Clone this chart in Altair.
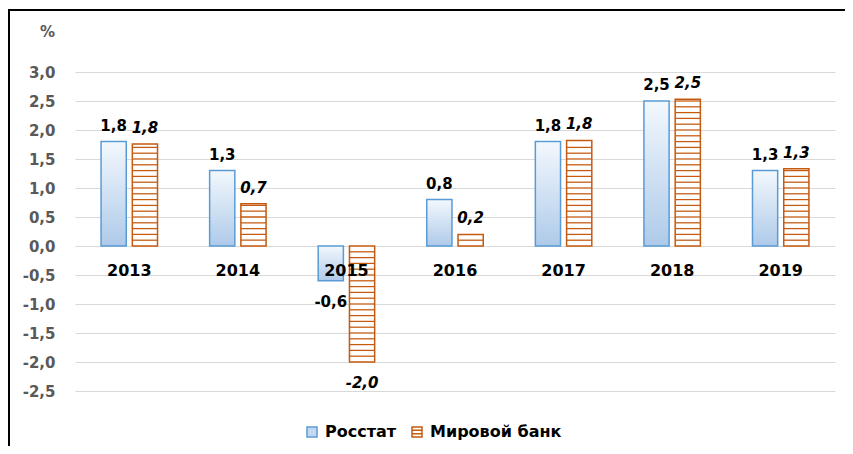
import altair as alt
import pandas as pd

years = ["2013", "2014", "2015", "2016", "2017", "2018", "2019"]
rosstat = [1.8, 1.3, -0.6, 0.8, 1.8, 2.5, 1.3]
worldbank = [1.76, 0.73, -2.0, 0.2, 1.82, 2.53, 1.33]
rosstat_labels = ["1,8", "1,3", "-0,6", "0,8", "1,8", "2,5", "1,3"]
worldbank_labels = ["1,8", "0,7", "-2,0", "0,2", "1,8", "2,5", "1,3"]
series_names = ["Росстат", "Мировой банк"]
y_ticks = [-2.5, -2.0, -1.5, -1.0, -0.5, 0.0, 0.5, 1.0, 1.5, 2.0, 2.5, 3.0]

FONT = "DejaVu Sans"
BLUE = "#5b9bd5"
ORANGE = "#c55a11"

rows = []
for y, v, l in zip(years, rosstat, rosstat_labels):
    rows.append({"year": y, "series": series_names[0], "value": v, "label": l})
for y, v, l in zip(years, worldbank, worldbank_labels):
    rows.append({"year": y, "series": series_names[1], "value": v, "label": l})
df = pd.DataFrame(rows)
df_r = df[df.series == series_names[0]]
df_w = df[df.series == series_names[1]]

# horizontal hatch lines inside the World Bank bars (every 0.1 unit)
stripes = []
for y, v in zip(years, worldbank):
    sign = 1 if v >= 0 else -1
    k = 1
    while k / 10 < abs(v) - 0.02:
        lvl = sign * k / 10
        stripes.append({"year": y, "series": series_names[1], "lo": lvl - 0.011, "hi": lvl + 0.011})
        k += 1
df_s = pd.DataFrame(stripes)

x_enc = alt.X("year:N", sort=years, scale=alt.Scale(domain=years, paddingInner=0.48, paddingOuter=0.24), axis=None)
xoff = alt.XOffset("series:N", scale=alt.Scale(domain=series_names, paddingInner=0.194, paddingOuter=0))
y_scale = alt.Scale(domain=[-2.5, 3.0], nice=False, zero=False)
y_axis = alt.Axis(
    values=y_ticks, tickCount=len(y_ticks),
    labelExpr="replace(replace(format(datum.value, '.1f'), '.', ','), '\u2212', '-')",
    domain=False, ticks=False, grid=True, gridColor="#d9d9d9", gridWidth=1,
    labelOverlap=False,
    labelFont=FONT, labelFontSize=15, labelFontWeight="bold", labelColor="#595959",
    labelPadding=20,
    title="%", titleAngle=0, titleX=-28, titleY=-41, titleAlign="center", titleBaseline="middle",
    titleFont=FONT, titleFontSize=15, titleFontWeight="bold", titleColor="#595959",
)

gradient = {
    "gradient": "linear", "x1": 0, "y1": 0, "x2": 0, "y2": 1,
    "stops": [{"offset": 0, "color": "#f3f8fd"}, {"offset": 1, "color": "#aecae9"}],
}

bars_r = alt.Chart(df_r).mark_bar(fill=gradient, stroke=BLUE, strokeWidth=1.5).encode(
    x=x_enc, xOffset=xoff, y=alt.Y("value:Q", scale=y_scale, axis=y_axis)
)
bars_w = alt.Chart(df_w).mark_bar(fill="white", stroke=ORANGE, strokeWidth=1.5).encode(
    x=x_enc, xOffset=xoff, y=alt.Y("value:Q")
)
hatch = alt.Chart(df_s).mark_bar(fill=ORANGE).encode(
    x=x_enc, xOffset=xoff, y="lo:Q", y2="hi:Q"
)

def labels(data, italic):
    out = []
    for cond, dy in (("datum.value >= 0", -16), ("datum.value < 0", 21)):
        kw = dict(dy=dy, font=FONT, fontSize=15, fontWeight="bold", color="black")
        if italic:
            kw["fontStyle"] = "italic"
        out.append(
            alt.Chart(data).transform_filter(cond).mark_text(**kw).encode(
                x=x_enc, xOffset=xoff, y="value:Q", text="label:N"
            )
        )
    return out

cats = alt.Chart(pd.DataFrame({"year": years})).mark_text(
    dy=25, font=FONT, fontSize=16, fontWeight="bold", color="black"
).encode(x=x_enc, y=alt.datum(0), text="year:N")

sq = "M-1,-1H1V1H-1Z"
striped = "M-1,-1H1V1H-1Z M-1,-0.33H1 M-1,0.33H1"
legend_pts = alt.Chart(df).mark_point(opacity=0, size=100, strokeWidth=1.5, filled=False).encode(
    x=x_enc, xOffset=xoff, y="value:Q",
    shape=alt.Shape("series:N", title=None, scale=alt.Scale(domain=series_names, range=[sq, striped])),
    fill=alt.Fill("series:N", title=None, scale=alt.Scale(domain=series_names, range=["#c5d9f1", "#ffffff"])),
    stroke=alt.Stroke("series:N", title=None, scale=alt.Scale(domain=series_names, range=[BLUE, ORANGE])),
)

frame_left = alt.Chart(pd.DataFrame({"a": [0]})).mark_rule(color="black", strokeWidth=2).encode(
    x=alt.value(-66), y=alt.value(-62), y2=alt.value(380)
)
frame_top = alt.Chart(pd.DataFrame({"a": [0]})).mark_rule(color="black", strokeWidth=2).encode(
    x=alt.value(-67), x2=alt.value(775), y=alt.value(-62)
)

layers = [bars_r, bars_w, hatch] + labels(df_r, False) + labels(df_w, True) + [cats, legend_pts, frame_left, frame_top]

chart = alt.layer(*layers).properties(
    width=760, height=319,
    autosize=alt.AutoSizeParams(type="none"),
    padding={"left": 67, "top": 64, "right": 10, "bottom": 55},
).configure_view(stroke=None).configure_legend(
    orient="none", legendX=229, legendY=352, direction="horizontal",
    symbolOpacity=1, symbolSize=100, symbolStrokeWidth=1.5,
    labelFont=FONT, labelFontSize=16, labelFontWeight="bold", labelColor="black",
    labelOffset=5, columnPadding=12, padding=0,
)

chart.save("out.html", embed_options={"renderer": "svg", "actions": False})
